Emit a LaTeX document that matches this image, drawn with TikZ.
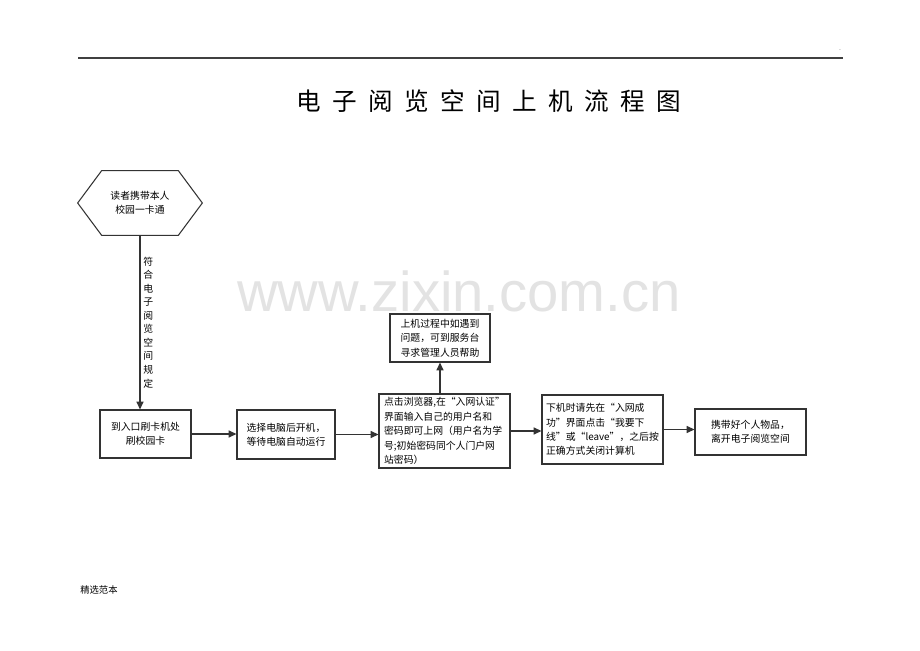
\documentclass[tikz,border=0pt]{standalone}
\usepackage{fontspec}
\usetikzlibrary{arrows.meta}
\newfontfamily\cjk{Noto Sans CJK SC}
\newfontfamily\wmfont{Liberation Sans}
\newcommand{\titlegap}{\hspace{6.5pt}}
\begin{document}
\begin{tikzpicture}[x=0.02cm, y=-0.02cm,
    boxStyle/.style={draw=black!80, line width=0.6pt, fill=white, font=\cjk\fontsize{5.6}{8.2}\selectfont, inner sep=2pt},
    hexStyle/.style={font=\cjk\fontsize{5.6}{8.2}\selectfont, minimum width=2.48cm, minimum height=1.28cm},
    arrowStyle/.style={draw=black!80, line width=0.8pt, -{Triangle[length=4.5pt,width=4pt]}}]
    \fill[white] (0,0) rectangle (920,651);
    \useasboundingbox (0,0) rectangle (920,651);
    \node[text=black!11, font=\wmfont\fontsize{32}{32}\selectfont, anchor=base](wm) at (459,312) {www.zixin.com.cn};
    \draw[black!75, line width=0.8pt] (78,58) -- (843,58);
    \node[font=\cjk\fontsize{4}{4}\selectfont, text=black!60](dot) at (840,50) {.};
    \node[font=\cjk\fontsize{14}{14}\selectfont](title) at (489,101) {电\titlegap 子\titlegap 阅\titlegap 览\titlegap 空\titlegap 间\titlegap 上\titlegap 机\titlegap 流\titlegap 程\titlegap 图};

    \node[hexStyle, align=center](start) at (140,203) {读者携带本人\\校园一卡通};
    \draw[black!80, line width=0.6pt] (start.west) -- ([xshift=0.48cm]start.north west) -- ([xshift=-0.48cm]start.north east)
        -- (start.east) -- ([xshift=-0.48cm]start.south east) -- ([xshift=0.48cm]start.south west) -- cycle;
    \node[boxStyle, minimum width=1.82cm, minimum height=0.96cm, align=center](card) at (145.5,434) {到入口刷卡机处\\刷校园卡};
    \node[boxStyle, minimum width=1.96cm, minimum height=0.98cm, align=left](boot) at (286,434.5) {选择电脑后开机，\\等待电脑自动运行};
    \node[boxStyle, minimum width=2.62cm, minimum height=1.48cm, align=left](login) at (444.5,431) {点击浏览器,在“入网认证”\\界面输入自己的用户名和\\密码即可上网（用户名为学\\号;初始密码同个人门户网\\站密码）};
    \node[boxStyle, minimum width=2.0cm, minimum height=0.96cm, align=left](help) at (440,338) {上机过程中如遇到\\问题，可到服务台\\寻求管理人员帮助};
    \node[boxStyle, minimum width=2.42cm, minimum height=1.38cm, align=left](logout) at (602.5,429.5) {下机时请先在“入网成\\功”界面点击“我要下\\线”或“leave”，之后按\\正确方式关闭计算机};
    \node[boxStyle, minimum width=2.22cm, minimum height=0.92cm, align=center](leave) at (750.5,432) {携带好个人物品，\\离开电子阅览空间};
    \node[font=\cjk\fontsize{5.3}{5.3}\selectfont, anchor=west, inner sep=0pt](foot) at (80,590) {精选范本};

    \draw[arrowStyle] (start.south) -- node[right=1pt, inner sep=0.5pt, align=center, font=\cjk\fontsize{5.6}{7.7}\selectfont]{符\\合\\电\\子\\阅\\览\\空\\间\\规\\定} (start.south |- card.north);
    \draw[arrowStyle] (card.east) -- (card.east -| boot.west);
    \draw[arrowStyle] (boot.east) -- (boot.east -| login.west);
    \draw[arrowStyle] (login.north -| help.south) -- (help.south);
    \draw[arrowStyle] (login.east) -- (login.east -| logout.west);
    \draw[arrowStyle] (logout.east) -- (logout.east -| leave.west);
\end{tikzpicture}
\end{document}
